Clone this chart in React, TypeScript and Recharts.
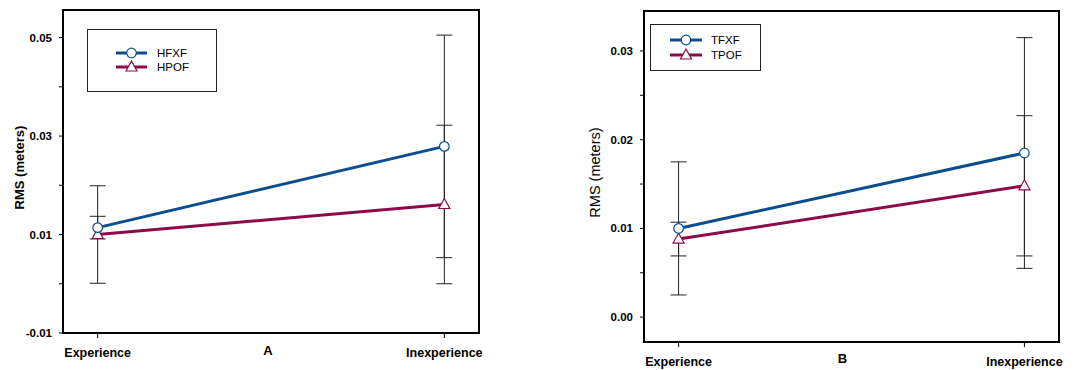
import React from "react"
import { LineChart, Line, XAxis, YAxis, ErrorBar, ReferenceArea } from "recharts"

const CATEGORIES = ["Experience", "Inexperience"]

// panel A (H...)
const HFXF = [0.0114, 0.0279]
const HFXF_ERR = [0.0023, 0.0226]
const HPOF = [0.01, 0.0161]
const HPOF_ERR = [0.0099, 0.0161]

// panel B (T...)
const TFXF = [0.01, 0.0185]
const TFXF_ERR = [0.0075, 0.013]
const TPOF = [0.0088, 0.0148]
const TPOF_ERR = [0.0019, 0.0079]

const A_TICKS = [-0.01, 0, 0.01, 0.02, 0.03, 0.04, 0.05]
const A_LABELED = [-0.01, 0.01, 0.03, 0.05]
const B_TICKS = [0, 0.005, 0.01, 0.015, 0.02, 0.025, 0.03]
const B_LABELED = [0, 0.01, 0.02, 0.03]

const BLUE = "#0b4d8d"
const RED = "#8c0b48"
const FONT = '"Liberation Sans", Arial, sans-serif'

const circleDot = (color: string) => (p: any) => (
    <circle key={`c${p.index}`} cx={p.cx} cy={p.cy} r={4.8} fill="#fff" stroke={color} strokeWidth={1.2} />
)

const triangleDot = (color: string) => (p: any) => (
    <polygon
        key={`t${p.index}`}
        points={`${p.cx},${p.cy - 6} ${p.cx - 5.5},${p.cy + 4} ${p.cx + 5.5},${p.cy + 4}`}
        fill="#fff"
        stroke={color}
        strokeWidth={1.2}
    />
)

function Panel(props: any) {
    const {
        width, a, aErr, b, bErr, names, domain, ticks, labeled, margin, yWidth, xHeight,
        yLabel, yLabelX, yLabelBold, yLabelSize, letter, letterOffset, letterDx,
    } = props
    const data = CATEGORIES.map((c, i) => ({
        x: i,
        name: c,
        s1: a[i],
        s1err: aErr[i],
        s2: b[i],
        s2err: bErr[i],
    }))
    const tickStyle = { fontFamily: FONT, fontWeight: 700, fill: "#000" }
    return (
        <LineChart width={width} height={370} data={data} margin={margin}>
            <XAxis
                type="number"
                dataKey="x"
                domain={[-0.1, 1.1]}
                ticks={[0, 1]}
                tickFormatter={(v: number) => CATEGORIES[v]}
                axisLine={false}
                tickLine={{ stroke: "#000" }}
                tickSize={5}
                tickMargin={10}
                height={xHeight}
                tick={{ ...tickStyle, fontSize: 12.5 }}
                interval={0}
                label={{
                    value: letter,
                    position: "insideBottom",
                    offset: letterOffset,
                    dx: letterDx,
                    style: { fontFamily: FONT, fontWeight: 700, fontSize: 13, fill: "#000" },
                }}
            />
            <YAxis
                type="number"
                domain={domain}
                ticks={ticks}
                allowDataOverflow
                width={yWidth}
                axisLine={false}
                tickLine={{ stroke: "#000" }}
                tickSize={4}
                tickMargin={7}
                tick={{ ...tickStyle, fontSize: 11.5 }}
                interval={0}
                tickFormatter={(v: number) => (labeled.includes(v) ? v.toFixed(2) : "")}
                label={{
                    content: (lp: any) => {
                        const vb = lp.viewBox || {}
                        const cx = yLabelX
                        const cy = (vb.y ?? 0) + (vb.height ?? 0) / 2 - 4
                        return (
                            <text
                                x={cx}
                                y={cy}
                                transform={`rotate(-90, ${cx}, ${cy})`}
                                textAnchor="middle"
                                dominantBaseline="central"
                                style={{ fontFamily: FONT, fontWeight: yLabelBold ? 700 : 400, fontSize: yLabelSize, fill: "#000" }}
                            >
                                {yLabel}
                            </text>
                        )
                    },
                }}
            />
            <ReferenceArea
                x1={-0.1}
                x2={1.1}
                y1={domain[0]}
                y2={domain[1]}
                fill="none"
                stroke="#000"
                strokeWidth={2}
                ifOverflow="visible"
            />
            <Line
                type="linear"
                dataKey="s2"
                name={names[1]}
                stroke={RED}
                strokeWidth={3}
                dot={triangleDot(RED)}
                isAnimationActive={false}
            >
                <ErrorBar dataKey="s2err" width={8} stroke="#222" strokeWidth={1} direction="y" />
            </Line>
            <Line
                type="linear"
                dataKey="s1"
                name={names[0]}
                stroke={BLUE}
                strokeWidth={3}
                dot={circleDot(BLUE)}
                isAnimationActive={false}
            >
                <ErrorBar dataKey="s1err" width={8} stroke="#222" strokeWidth={1} direction="y" />
            </Line>
        </LineChart>
    )
}

function LegendBox({ left, top, w, h, names, rowY, lineX1, lineX2, textX }: any) {
    const mx = (lineX1 + lineX2) / 2
    return (
        <div style={{ position: "absolute", left, top, width: w, height: h, border: "1px solid #222", boxSizing: "border-box", background: "#fff" }}>
            <svg width={w} height={h} style={{ position: "absolute", left: -1, top: -1 }}>
                <line x1={lineX1} x2={lineX2} y1={rowY[0]} y2={rowY[0]} stroke={BLUE} strokeWidth={3} />
                <circle cx={mx} cy={rowY[0]} r={4.8} fill="#fff" stroke={BLUE} strokeWidth={1.2} />
                <line x1={lineX1} x2={lineX2} y1={rowY[1]} y2={rowY[1]} stroke={RED} strokeWidth={3} />
                <polygon points={`${mx},${rowY[1] - 6} ${mx - 5.5},${rowY[1] + 4} ${mx + 5.5},${rowY[1] + 4}`} fill="#fff" stroke={RED} strokeWidth={1.2} />
                {names.map((n: string, i: number) => (
                    <text key={n} x={textX} y={rowY[i]} dominantBaseline="central" style={{ fontFamily: FONT, fontSize: 11.5, fill: "#000" }}>
                        {n}
                    </text>
                ))}
            </svg>
        </div>
    )
}

export default function App() {
    return (
        <div style={{ position: "absolute", left: 0, top: 0, width: 1077, height: 370, background: "#fff", fontFamily: FONT }}>
            <div style={{ position: "absolute", left: 0, top: 0 }}>
                <Panel
                    width={540}
                    a={HFXF}
                    aErr={HFXF_ERR}
                    b={HPOF}
                    bErr={HPOF_ERR}
                    names={["HFXF", "HPOF"]}
                    domain={[-0.01, 0.0556]}
                    ticks={A_TICKS}
                    labeled={A_LABELED}
                    margin={{ top: 10, right: 61, bottom: 0, left: 0 }}
                    yWidth={63}
                    xHeight={37}
                    yLabel="RMS (meters)"
                    yLabelX={19}
                    yLabelBold
                    yLabelSize={13}
                    letter="A"
                    letterOffset={15}
                    letterDx={-3}
                />
            </div>
            <div style={{ position: "absolute", left: 540, top: 0 }}>
                <Panel
                    width={537}
                    a={TFXF}
                    aErr={TFXF_ERR}
                    b={TPOF}
                    bErr={TPOF_ERR}
                    names={["TFXF", "TPOF"]}
                    domain={[-0.0028, 0.0345]}
                    ticks={B_TICKS}
                    labeled={B_LABELED}
                    margin={{ top: 11, right: 18, bottom: 0, left: 0 }}
                    yWidth={104}
                    xHeight={28}
                    yLabel="RMS (meters)"
                    yLabelX={55}
                    yLabelBold={false}
                    yLabelSize={14.5}
                    letter="B"
                    letterOffset={7}
                    letterDx={-9}
                />
            </div>
            <LegendBox left={87} top={29} w={130} h={63} names={["HFXF", "HPOF"]} rowY={[24, 38]} lineX1={29} lineX2={60} textX={70} />
            <LegendBox left={650} top={24} w={111} h={47} names={["TFXF", "TPOF"]} rowY={[16, 31]} lineX1={20} lineX2={52} textX={61} />
        </div>
    )
}
